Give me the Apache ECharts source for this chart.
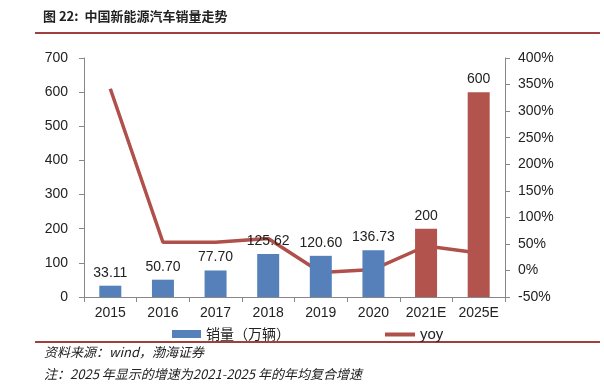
<!DOCTYPE html>
<html><head><meta charset="utf-8">
<script src="https://cdn.jsdelivr.net/npm/echarts@6/dist/echarts.min.js"></script>
<style>html,body{margin:0;padding:0;background:#fff}#c{width:604px;height:392px}</style>
</head><body><div id="c"></div>
<script>
const categories = ['2015','2016','2017','2018','2019','2020','2021E','2025E'];
const sales = [33.11, 50.70, 77.70, 125.62, 120.60, 136.73, 200, 600];
const salesLabels = ['33.11','50.70','77.70','125.62','120.60','136.73','200','600'];
const yoy = [3.42, 0.53, 0.53, 0.60, -0.04, 0.02, 0.46, 0.33];
const leftTicks = [0,100,200,300,400,500,600,700];
const rightTicks = [-0.5,0,0.5,1,1.5,2,2.5,3,3.5,4];

const F = '"Liberation Sans", Arial, sans-serif';
const CJK = '"Noto Sans CJK SC", sans-serif';
const blue = '#5580BA', red = '#B3534D', lineRed = '#B0504B';
const chart = echarts.init(document.getElementById('c'));
chart.setOption({
  animation: false,
  grid: {left: 84, right: 99, top: 58, bottom: 95},
  legend: [
    {data: [{name: '销量（万辆）', icon: 'rect', itemStyle: {color: blue}}], left: 167, top: 322, itemWidth: 29, itemHeight: 8, itemGap: 6,
     textStyle: {fontFamily: CJK, fontSize: 14, color: '#222'}},
    {data: [{name: 'yoy', icon: 'rect', itemStyle: {color: lineRed}}], left: 380, top: 322, itemWidth: 30, itemHeight: 4, itemGap: 4,
     textStyle: {fontFamily: F, fontSize: 15, color: '#222'}}
  ],
  xAxis: {
    type: 'category', data: categories,
    axisLine: {lineStyle: {color: '#888'}},
    axisTick: {show: true, alignWithLabel: false, length: 5, lineStyle: {color: '#888'}},
    axisLabel: {fontFamily: F, fontSize: 14, color: '#222', margin: 9, interval: 0, hideOverlap: false}
  },
  yAxis: [
    {type: 'value', min: leftTicks[0], max: leftTicks[leftTicks.length-1], interval: 100,
     splitLine: {show: false},
     axisLine: {show: true, lineStyle: {color: '#888'}},
     axisTick: {show: true, length: 5, lineStyle: {color: '#888'}},
     axisLabel: {fontFamily: F, fontSize: 14, color: '#222', margin: 16}},
    {type: 'value', min: rightTicks[0], max: rightTicks[rightTicks.length-1], interval: 0.5,
     splitLine: {show: false}, alignTicks: false,
     axisLine: {show: true, lineStyle: {color: '#888'}},
     axisTick: {show: true, length: 5, lineStyle: {color: '#888'}},
     axisLabel: {fontFamily: F, fontSize: 14, color: '#222', margin: 13,
       formatter: v => Math.round(v*100) + '%'}}
  ],
  series: [
    {name: '销量（万辆）', type: 'bar', data: sales, barWidth: 22, yAxisIndex: 0,
     itemStyle: {color: p => categories[p.dataIndex].endsWith('E') ? red : blue},
     label: {show: true, position: 'top', distance: 6, fontFamily: F, fontSize: 14, color: '#222',
       formatter: p => salesLabels[p.dataIndex]}},
    {name: 'yoy', type: 'line', data: yoy, yAxisIndex: 1, showSymbol: false, symbol: 'none',
     lineStyle: {color: lineRed, width: 3.5}, itemStyle: {color: lineRed}, z: 1}
  ],
  graphic: [
    {type: 'text', left: 43, top: 10, style: {text: '图 22:  中国新能源汽车销量走势', fontFamily: CJK, fontWeight: 'bold', fontSize: 13, fill: '#222'}},
    {type: 'rect', shape: {x: 35, y: 32, width: 565, height: 2}, style: {fill: '#A0403C'}},
    {type: 'rect', shape: {x: 35, y: 341, width: 565, height: 2}, style: {fill: '#A0403C'}},
    {type: 'text', left: 44, top: 346, style: {text: '资料来源：wind，渤海证券', fontFamily: CJK, fontStyle: 'italic', fontSize: 13, fill: '#222'}},
    {type: 'text', left: 44, top: 368, style: {text: '注：2025 年显示的增速为2021-2025 年的年均复合增速', fontFamily: CJK, fontStyle: 'italic', fontSize: 13, fill: '#222'}}
  ]
});
</script></body></html>
